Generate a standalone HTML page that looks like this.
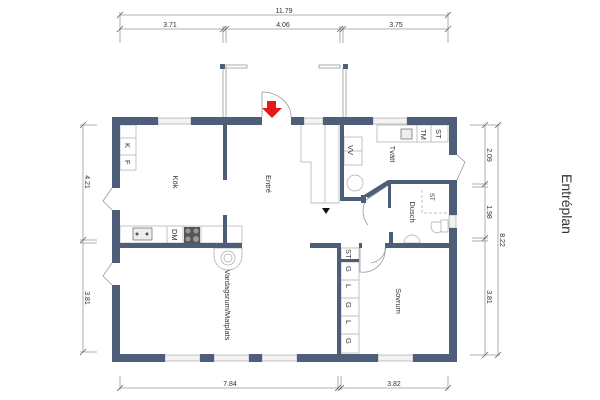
<!DOCTYPE html>
<html><head><meta charset="utf-8"><style>body{margin:0;background:#fff}svg{display:block}text{font-family:"Liberation Sans",sans-serif;fill:#333}</style></head><body>
<svg width="600" height="400" viewBox="0 0 600 400" xmlns="http://www.w3.org/2000/svg">
<g stroke="#999" stroke-width="0.8" fill="none">
<line x1="120" y1="15" x2="448" y2="15"/><line x1="120" y1="29" x2="448" y2="29"/>
<line x1="120" y1="12" x2="120" y2="43"/><line x1="448" y1="12" x2="448" y2="43"/>
<line x1="223" y1="26" x2="223" y2="43"/><line x1="226" y1="26" x2="226" y2="43"/>
<line x1="340" y1="26" x2="340" y2="43"/><line x1="343" y1="26" x2="343" y2="43"/>
<line x1="485" y1="125" x2="485" y2="355"/><line x1="498" y1="125" x2="498" y2="355"/>
<line x1="472" y1="184" x2="488" y2="184"/><line x1="472" y1="187" x2="488" y2="187"/>
<line x1="472" y1="238" x2="488" y2="238"/><line x1="472" y1="241" x2="488" y2="241"/>
<line x1="470" y1="125" x2="500" y2="125"/><line x1="470" y1="355" x2="500" y2="355"/>
<line x1="83" y1="125" x2="83" y2="352"/>
<line x1="80" y1="125" x2="97" y2="125"/><line x1="80" y1="352" x2="97" y2="352"/>
<line x1="80" y1="240" x2="97" y2="240"/><line x1="80" y1="243" x2="97" y2="243"/>
<line x1="120" y1="388" x2="448" y2="388"/>
<line x1="120" y1="376" x2="120" y2="390"/><line x1="448" y1="376" x2="448" y2="390"/>
<line x1="338" y1="376" x2="338" y2="390"/><line x1="341" y1="376" x2="341" y2="390"/>
</g>
<g stroke="#666" stroke-width="0.8">
<path d="M117 18l6-6M445 18l6-6M117 32l6-6M220 32l6-6M223 32l6-6M337 32l6-6M340 32l6-6M445 32l6-6"/>
<path d="M482 128l6-6M495 128l6-6M482 187l6-6M482 241l6-6M482 358l6-6M495 358l6-6"/>
<path d="M80 128l6-6M80 243l6-6M80 355l6-6M117 391l6-6M335 391l6-6M338 391l6-6M445 391l6-6"/>
</g>
<g font-size="7">
<text x="284" y="13" text-anchor="middle">11.79</text>
<text x="170" y="27" text-anchor="middle">3.71</text>
<text x="283" y="27" text-anchor="middle">4.06</text>
<text x="396" y="27" text-anchor="middle">3.75</text>
<text x="230" y="386" text-anchor="middle">7.84</text>
<text x="394" y="386" text-anchor="middle">3.82</text>
<text transform="translate(487,155) rotate(90)" text-anchor="middle">2.09</text>
<text transform="translate(487,212) rotate(90)" text-anchor="middle">1.98</text>
<text transform="translate(487,297) rotate(90)" text-anchor="middle">3.81</text>
<text transform="translate(500,240) rotate(90)" text-anchor="middle">8.22</text>
<text transform="translate(85,182) rotate(90)" text-anchor="middle">4.21</text>
<text transform="translate(85,298) rotate(90)" text-anchor="middle">3.81</text>
</g>
<text transform="translate(562,204) rotate(90)" text-anchor="middle" font-size="14" fill="#222">Entréplan</text>
<g fill="none" stroke="#999" stroke-width="0.8">
<line x1="223" y1="68" x2="223" y2="117"/><line x1="226" y1="68" x2="226" y2="117"/>
<rect x="226" y="65" width="21" height="3"/>
<line x1="343" y1="68" x2="343" y2="117"/><line x1="346" y1="68" x2="346" y2="117"/>
<rect x="319" y="65" width="21" height="3"/>
</g>
<rect x="220" y="64" width="5" height="5" fill="#4d5f78"/><rect x="343" y="64" width="5" height="5" fill="#4d5f78"/>
<g fill="#f2f2f2" stroke="#aaa" stroke-width="0.7">
<rect x="158" y="118" width="33" height="6"/><rect x="304" y="118" width="19" height="6"/><rect x="373" y="118" width="34" height="6"/>
<rect x="165" y="355" width="35" height="6"/><rect x="214" y="355" width="35" height="6"/><rect x="262" y="355" width="35" height="6"/><rect x="378" y="355" width="35" height="6"/>
<rect x="449" y="215" width="7" height="13"/>
</g>
<g fill="#fff" stroke="#aaa" stroke-width="0.7">
<rect x="120" y="125" width="16" height="45"/><line x1="120" y1="138" x2="136" y2="138"/>
<line x1="120" y1="155" x2="136" y2="155"/>
<rect x="120" y="226" width="122" height="17"/>
<line x1="167" y1="226" x2="167" y2="243"/><line x1="183" y1="226" x2="183" y2="243"/><line x1="201" y1="226" x2="201" y2="243"/>
<path d="M301 125v37h10v41h28v-78"/><path d="M325 125v78"/>
<rect x="377" y="125" width="71" height="17"/>
<line x1="417" y1="125" x2="417" y2="142"/><line x1="431" y1="125" x2="431" y2="142"/>
<rect x="344" y="137" width="18" height="28"/><line x1="344" y1="151" x2="362" y2="151"/>
<circle cx="355" cy="183" r="8"/>
<path d="M214 248h28v8a14 14 0 0 1-28 0z"/><circle cx="228" cy="258" r="7"/><circle cx="228" cy="258" r="4"/>
<rect x="341" y="248" width="18" height="105"/>
<line x1="341" y1="262" x2="359" y2="262"/><line x1="341" y1="280" x2="359" y2="280"/><line x1="341" y1="298" x2="359" y2="298"/><line x1="341" y1="316" x2="359" y2="316"/><line x1="341" y1="334" x2="359" y2="334"/>
<path d="M432 222a6 7 0 1 0 10 0z"/><rect x="441" y="220" width="7" height="12"/>
<path d="M404 243a8 8 0 0 1 16 0z"/>
</g>
<path d="M422 190v23h26" fill="none" stroke="#aaa" stroke-dasharray="3,2" stroke-width="0.7"/>
<rect x="133" y="228" width="19" height="12" fill="#eee" stroke="#777" stroke-width="0.8"/>
<circle cx="137" cy="234" r="1.5" fill="#555"/><circle cx="147" cy="234" r="1.5" fill="#555"/>
<rect x="184" y="227" width="16" height="16" fill="#555"/>
<g fill="#999"><circle cx="188" cy="231" r="2.5"/><circle cx="196" cy="231" r="2.5"/><circle cx="188" cy="239" r="2.5"/><circle cx="196" cy="239" r="3"/></g>
<rect x="401" y="129" width="11" height="10" fill="#eee" stroke="#777" stroke-width="0.8"/>
<g fill="none" stroke="#999" stroke-width="0.8">
<path d="M262 92v25M262 92a29 25 0 0 1 29 25"/>
<path d="M112 188l-9 13 9 9"/><path d="M112 263l-9 13 9 9"/>
<path d="M457 155l8 7-8 18"/>
<path d="M366 200l30-20M366 200a22 22 0 0 0 2 25"/>
<path d="M360 248v24a22 22 0 0 0 25-24"/>
<path d="M386 243a18 18 0 0 1-15 20"/>
</g>
<path d="M267 101h9v7h6l-10 10-10-10h5z" fill="#e41a1a"/>
<path d="M322 208l4 6 4-6z" fill="#111"/>
<g fill="#4d5f78">
<rect x="112" y="117" width="46" height="8"/><rect x="191" y="117" width="71" height="8"/><rect x="291" y="117" width="13" height="8"/><rect x="323" y="117" width="50" height="8"/><rect x="407" y="117" width="50" height="8"/>
<rect x="112" y="117" width="8" height="71"/><rect x="112" y="210" width="8" height="53"/><rect x="112" y="285" width="8" height="77"/>
<rect x="112" y="354" width="53" height="8"/><rect x="200" y="354" width="14" height="8"/><rect x="249" y="354" width="13" height="8"/><rect x="297" y="354" width="81" height="8"/><rect x="413" y="354" width="44" height="8"/>
<rect x="449" y="117" width="8" height="38"/><rect x="449" y="180" width="8" height="35"/><rect x="449" y="228" width="8" height="134"/>
<rect x="223" y="125" width="4" height="55"/><rect x="223" y="215" width="4" height="33"/>
<rect x="120" y="243" width="122" height="5"/>
<rect x="337" y="243" width="4" height="111"/>
<rect x="310" y="243" width="31" height="5"/><rect x="359" y="243" width="3" height="5"/><rect x="385" y="243" width="64" height="5"/>
<rect x="341" y="259" width="18" height="3"/>
<rect x="340" y="125" width="4" height="76"/><rect x="340" y="197" width="24" height="4"/>
<rect x="389" y="232" width="4" height="13"/>
<rect x="361" y="195" width="5" height="8"/>
<path d="M364 195l24-15h61v4h-59l-22 14z"/>
<rect x="388" y="182" width="3" height="26"/>
</g>
<g font-size="7.5">
<text transform="translate(173,182) rotate(90)" text-anchor="middle">Kök</text>
<text transform="translate(266,184) rotate(90)" text-anchor="middle">Entré</text>
<text transform="translate(390,154) rotate(90)" text-anchor="middle">Tvätt</text>
<text transform="translate(410,212) rotate(90)" text-anchor="middle">Dusch</text>
<text transform="translate(225,305) rotate(90)" text-anchor="middle">Vardagsrum/Matplats</text>
<text transform="translate(396,301) rotate(90)" text-anchor="middle">Sovrum</text>
<text transform="translate(125,143) rotate(90)">K</text>
<text transform="translate(125,160) rotate(90)">F</text>
<text transform="translate(172,229) rotate(90)">DM</text>
<text transform="translate(421,129) rotate(90)">TM</text>
<text transform="translate(436,129) rotate(90)">ST</text>
<text transform="translate(348,145) rotate(90)">VV</text>
<text transform="translate(346,249) rotate(90)">ST</text>
<text transform="translate(346,266) rotate(90)">G</text>
<text transform="translate(346,284) rotate(90)">L</text>
<text transform="translate(346,302) rotate(90)">G</text>
<text transform="translate(346,320) rotate(90)">L</text>
<text transform="translate(346,338) rotate(90)">G</text>
<text transform="translate(430,193) rotate(90)" font-size="6">ST</text>
</g>
</svg>
</body></html>
